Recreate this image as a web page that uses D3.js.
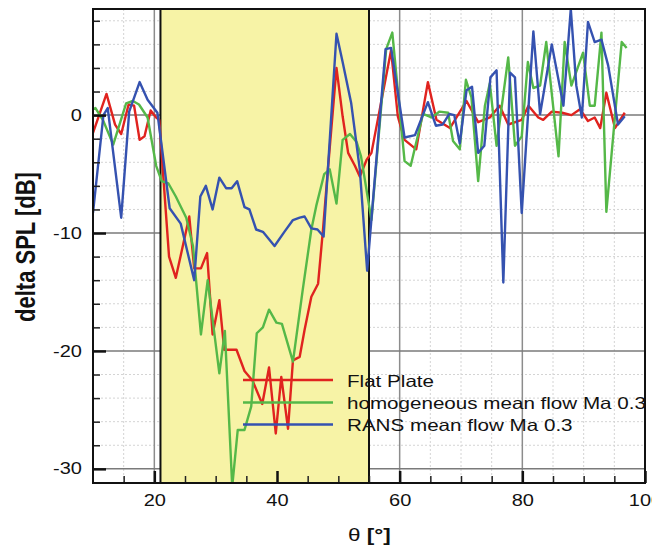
<!DOCTYPE html>
<html>
<head>
<meta charset="utf-8">
<script src="https://cdn.jsdelivr.net/npm/d3@7"></script>
<style>
  html, body { margin: 0; padding: 0; background: #fff; }
  svg { display: block; font-family: "Liberation Sans", Arial, Helvetica, sans-serif; }
</style>
</head>
<body>
<svg id="chart" width="652" height="548"></svg>
<script>
// values: theta [deg] and delta SPL [dB] per series
const flatTheta = [10.0,12.2,13.6,14.6,15.8,16.7,17.6,18.4,19.4,20.3,20.8,22.4,23.5,25.7,26.5,27.6,28.6,29.5,30.6,31.4,33.4,34.7,36.0,37.6,38.7,39.8,40.7,41.8,42.6,43.7,44.5,45.6,46.7,47.5,48.3,49.7,50.7,51.6,52.7,53.5,54.6,55.4,58.6,59.7,60.8,62.7,64.6,66.0,68.2,70.9,72.8,74.7,76.3,77.7,79.9,81.0,82.6,83.4,84.8,86.5,88.0,89.4,90.7,91.8,92.7,93.7,95.1,96.7]
const flatSPL = [-1.5,1.8,-0.8,-1.6,0.9,0.8,-2.1,-1.8,0.4,-0.2,-0.4,-12,-13.8,-8.6,-13,-13,-11.7,-18.6,-15.7,-19.9,-19.9,-21.7,-22.5,-24.5,-21.4,-27,-22.2,-26.6,-20.8,-20.5,-18.2,-15.4,-14.3,-9.7,-4.6,4.0,-0.1,-3.2,-4.3,-5.2,-3.8,-3.2,5.5,-0.1,-2.1,-2.9,2.8,-0.4,-1.1,1.2,-0.6,-0.2,0.8,-0.8,-0.4,0.8,-0.2,-0.4,0.3,0.2,0,0.5,-0.5,-0.2,-1.1,1.9,-1.1,0.2]

const homTheta = [10.0,10.4,11.6,13.3,15.4,16.5,17.5,18.9,20.3,21.2,22.3,23.5,25.2,26.3,27.6,28.7,30.6,31.5,32.7,33.6,34.7,35.8,36.7,37.7,38.7,39.9,40.8,42.6,44.2,45.6,46.4,47.7,48.6,49.7,50.7,51.9,53.0,53.7,55.4,57.8,58.8,60.8,61.8,63.8,65.2,66.5,67.9,68.7,69.8,70.8,71.7,72.8,73.9,74.7,75.8,77.7,78.8,79.9,80.9,81.8,82.9,83.9,85.9,86.9,88.0,89.9,91.0,91.8,92.9,93.7,96.2,97.0]
const homSPL = [0.5,0.6,-0.4,-2.5,1.0,1.2,0.9,-0.2,-4.3,-5.6,-5.8,-6.9,-8.7,-11.1,-18.6,-14.0,-21.9,-18.3,-31.5,-26.7,-26.7,-24.7,-18.5,-18.0,-16.5,-17.6,-17.7,-20.9,-14.8,-9.7,-7.7,-5.0,-4.6,-7.5,-2.1,-1.6,-2.3,-3.5,-8.9,5.6,7.0,-3.9,-4.3,0.1,-0.2,0.3,0.2,-2.2,-2.9,3.0,1.5,-5.6,0.8,2.7,-2.6,4.9,-2.6,-1.8,4.5,2.3,2.5,6.2,-3.5,6.2,2.5,5.3,0.8,0.8,7.0,-8.2,6.2,5.7]

const ransTheta = [10.0,11.7,12.4,14.6,15.9,17.6,18.9,20.5,22.5,24.3,26.5,27.5,28.4,29.5,30.6,31.7,32.6,33.5,34.7,35.5,36.6,37.7,39.6,41.2,42.6,43.7,44.5,45.6,46.6,47.6,49.7,50.7,52.1,53.5,54.7,57.7,58.6,60.8,62.5,64.6,65.9,67.0,68.1,68.9,69.8,70.9,71.8,72.8,73.8,74.8,75.8,76.9,78.0,78.8,79.9,81.8,82.9,84.8,86.7,87.9,88.8,89.7,90.7,91.8,92.9,94.0,95.6,96.7]
const ransSPL = [-8.3,0,0.6,-8.7,0.3,2.8,1.3,0.2,-7.9,-9.2,-14,-6.9,-6.0,-8.0,-5.3,-6.2,-6.2,-5.6,-7.8,-8.0,-9.7,-9.9,-11.1,-9.9,-8.9,-8.7,-8.6,-9.6,-9.7,-10.3,6.9,4.5,1.0,-4.6,-13.2,5.6,5.7,-1.9,-1.7,1.1,-0.9,-0.8,0.1,0,-2.4,2.1,2.4,-3.2,-2.6,3.2,3.8,-14.2,3.6,3.2,-8.3,7.1,0.1,6.0,0.8,9.0,2.5,-0.2,7.9,6.2,6.4,4.2,-0.8,-0.1]

const seriesNames = ["Flat Plate", "homogeneous mean flow Ma 0.3", "RANS mean flow Ma 0.3"]
const seriesColors = ["#e0231f", "#55b848", "#3552b0"]

const xTicks = [20, 40, 60, 80, 100]
const yTicks = [0, -10, -20, -30]
const band = [21, 55]   // shaded theta range

// the original figure is stretched sideways, text too
const SX = 1.25

const svg = d3.select("#chart")
const pl = 93, pr = 645, pt = 9, pb = 483

const x = d3.scaleLinear().domain([10, 100]).range([pl, pr])
const y = d3.scaleLinear().domain([9, -31.2]).range([pt, pb])

svg.append("defs").append("clipPath").attr("id", "plotclip")
   .append("rect")
   .attr("x", pl).attr("y", pt)
   .attr("width", pr - pl).attr("height", pb - pt)

// minor grid
const xMinor = d3.range(15, 100, 5).filter(d => d % 20 !== 0)
const yMinor = d3.range(-30, 9, 2).filter(d => d % 10 !== 0)

const grid = svg.append("g")
grid.selectAll("line.xm").data(xMinor).enter().append("line")
    .attr("x1", d => x(d)).attr("x2", d => x(d))
    .attr("y1", pt).attr("y2", pb)
    .attr("stroke", "#d4d4d4").attr("stroke-dasharray", "2,2")
grid.selectAll("line.ym").data(yMinor).enter().append("line")
    .attr("y1", d => y(d)).attr("y2", d => y(d))
    .attr("x1", pl).attr("x2", pr)
    .attr("stroke", "#d4d4d4").attr("stroke-dasharray", "2,2")

// major grid
grid.selectAll("line.xM").data(xTicks.filter(d => d < 100)).enter().append("line")
    .attr("x1", d => x(d)).attr("x2", d => x(d))
    .attr("y1", pt).attr("y2", pb)
    .attr("stroke", "#8c8c8c").attr("stroke-width", 1.5)
grid.selectAll("line.yM").data(yTicks).enter().append("line")
    .attr("y1", d => y(d)).attr("y2", d => y(d))
    .attr("x1", pl).attr("x2", pr)
    .attr("stroke", "#7a7a7a").attr("stroke-width", 1.5)

// shaded band
svg.append("rect")
   .attr("x", x(band[0])).attr("y", pt)
   .attr("width", x(band[1]) - x(band[0])).attr("height", pb - pt)
   .attr("fill", "#f7f3a6")
svg.selectAll("line.band").data(band).enter().append("line")
   .attr("x1", d => x(d)).attr("x2", d => x(d))
   .attr("y1", pt).attr("y2", pb)
   .attr("stroke", "#111").attr("stroke-width", 2)

// curves
const thetas = [flatTheta, homTheta, ransTheta]
const spls = [flatSPL, homSPL, ransSPL]
const line = d3.line().x(d => x(d[0])).y(d => y(d[1]))

const curves = svg.append("g").attr("clip-path", "url(#plotclip)")
thetas.forEach((th, i) => {
    curves.append("path")
        .datum(d3.zip(th, spls[i]))
        .attr("d", line)
        .attr("fill", "none")
        .attr("stroke", seriesColors[i])
        .attr("stroke-width", 2.4)
        .attr("stroke-linejoin", "round")
})

// axes, ticks pointing inward
const stretchLabels = (g, dx) => g.selectAll("text")
    .attr("x", 0)
    .attr("transform", `translate(${dx},0) scale(${SX},1)`)

svg.append("g")
   .attr("transform", `translate(${pl},0)`)
   .call(d3.axisLeft(y).tickValues(yMinor).tickSize(-7).tickFormat(""))
   .call(g => g.select(".domain").remove())
   .call(g => g.selectAll("line").attr("stroke", "#222").attr("stroke-width", 1.5))

svg.append("g")
   .attr("transform", `translate(${pl},0)`)
   .call(d3.axisLeft(y).tickValues(yTicks).tickSize(-13).tickPadding(11).tickFormat(d => d))
   .call(g => g.select(".domain").remove())
   .call(g => g.selectAll("line").attr("stroke", "#111").attr("stroke-width", 2.5))
   .attr("font-size", 16).attr("font-family", null)
   .call(g => stretchLabels(g, -11))
   .call(g => g.selectAll("text").attr("fill", "#111"))

svg.append("g")
   .attr("transform", `translate(0,${pb})`)
   .call(d3.axisBottom(x).tickValues(xMinor).tickSize(-7).tickFormat(""))
   .call(g => g.select(".domain").remove())
   .call(g => g.selectAll("line").attr("stroke", "#222").attr("stroke-width", 1.5))

svg.append("g")
   .attr("transform", `translate(0,${pb})`)
   .call(d3.axisBottom(x).tickValues(xTicks).tickSize(-12).tickPadding(12).tickFormat(d => d))
   .call(g => g.select(".domain").remove())
   .call(g => g.selectAll("line").attr("stroke", "#111").attr("stroke-width", 2.5))
   .attr("font-size", 16).attr("font-family", null)
   .call(g => g.selectAll("text").attr("transform", `scale(${SX},1)`).attr("fill", "#111"))

// frame
svg.append("rect")
   .attr("x", pl).attr("y", pt)
   .attr("width", pr - pl).attr("height", pb - pt)
   .attr("fill", "none").attr("stroke", "#111").attr("stroke-width", 2)

// legend
const legend = svg.append("g")
seriesNames.forEach((name, i) => {
    const ly = [380, 402.5, 424.5][i]
    legend.append("line")
        .attr("x1", 243).attr("x2", 333)
        .attr("y1", ly).attr("y2", ly)
        .attr("stroke", seriesColors[i]).attr("stroke-width", 2.4)
    legend.append("text")
        .attr("transform", `translate(347,${ly + 6.5}) scale(${SX},1)`)
        .attr("font-size", 16.5)
        .attr("fill", "#111")
        .text(name)
})

// axis titles
svg.append("text")
   .attr("transform", `translate(35,247) scale(${SX},1) rotate(-90)`)
   .attr("text-anchor", "middle")
   .attr("font-size", 22)
   .attr("font-weight", "bold")
   .attr("fill", "#111")
   .text("delta SPL [dB]")

const xt = svg.append("text")
   .attr("transform", `translate(348,541) scale(${SX},1)`)
   .attr("font-size", 18)
   .attr("fill", "#111")
xt.append("tspan").text("θ ")
xt.append("tspan").attr("font-weight", "bold").text("[°]")
</script>
</body>
</html>
